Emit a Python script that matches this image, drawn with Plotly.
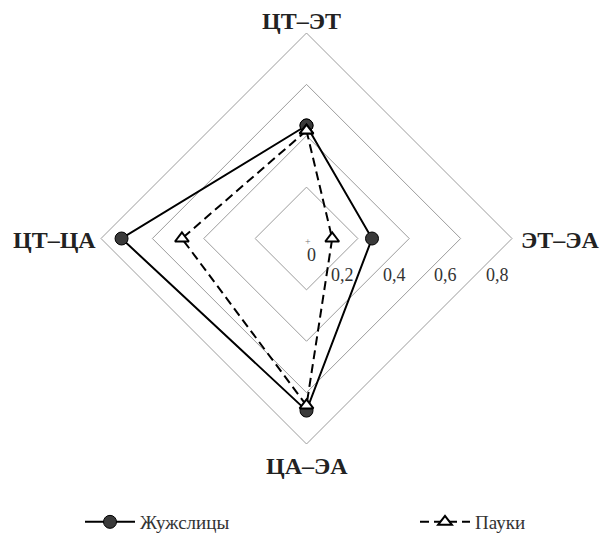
import plotly.graph_objects as go

# axes (clockwise from top)
categories = ['ЦТ–ЭТ', 'ЭТ–ЭА', 'ЦА–ЭА', 'ЦТ–ЦА']

# series values
zhuzhelitsy = [0.44, 0.255, 0.67, 0.72]
pauki = [0.42, 0.10, 0.65, 0.485]

# radial ticks
tick_vals = [0, 0.2, 0.4, 0.6, 0.8]
tick_text = ['0', '0,2', '0,4', '0,6', '0,8']

W, H = 602, 533
serif = 'Liberation Serif, Times New Roman, serif'

# polar domain in pixels
px0, px1 = 101, 512
py0, py1 = 33, 444
cx = (px0 + px1) / 2
cy = (py0 + py1) / 2
rpx = (px1 - px0) / 2
rmax = 0.8


def close(v):
    return v + v[:1]


def paper(x, y):
    return dict(x=x / W, y=1 - y / H, xref='paper', yref='paper', showarrow=False)


fig = go.Figure()

fig.add_trace(go.Scatterpolar(
    r=close(zhuzhelitsy), theta=close(categories),
    mode='lines+markers', name='Жужслицы', legend='legend',
    line=dict(color='black', width=2),
    marker=dict(symbol='circle', size=13, color='#3a3a3a',
                line=dict(color='black', width=1)),
))

fig.add_trace(go.Scatterpolar(
    r=close(pauki), theta=close(categories),
    mode='lines+markers', name='Пауки', legend='legend2',
    line=dict(color='black', width=2, dash='9px,5px'),
    marker=dict(symbol='triangle-up', size=12, color='white',
                line=dict(color='black', width=2)),
))

annotations = []

# radial tick labels, placed under the right-hand edges
for v, t in zip(tick_vals, tick_text):
    if v == 0:
        x, y = cx + 5, cy + 16
    else:
        x, y = cx + v / rmax * rpx - 15, cy + 36
    annotations.append(dict(paper(x, y), text=t, xanchor='center', yanchor='middle',
                            font=dict(family=serif, size=18, color='#333333')))

annotations.append(dict(paper(cx + 1, cy + 3), text='+',
                        font=dict(family=serif, size=10, color='#777777')))

# category labels outside the outer diamond (top, right, bottom, left)
cat_pos = [
    (cx - 5, py0 - 12, 'center'),
    (px1 + 7, cy + 1, 'left'),
    (cx, py1 + 22, 'center'),
    (px0 - 3, cy + 1, 'right'),
]
for c, (x, y, xa) in zip(categories, cat_pos):
    annotations.append(dict(paper(x, y), text='<b>%s</b>' % c, xanchor=xa, yanchor='middle',
                            font=dict(family=serif, size=24, color='#222222')))

legend_style = dict(orientation='h', y=1 - 522 / H, xanchor='left', yanchor='middle',
                    font=dict(family=serif, size=19, color='#333333'),
                    itemwidth=50, bgcolor='rgba(0,0,0,0)')

fig.update_layout(
    width=W, height=H,
    margin=dict(l=0, r=0, t=0, b=0, autoexpand=False),
    paper_bgcolor='white',
    plot_bgcolor='white',
    showlegend=True,
    font=dict(family=serif, color='#333333'),
    polar=dict(
        domain=dict(x=[px0 / W, px1 / W], y=[1 - py1 / H, 1 - py0 / H]),
        bgcolor='white',
        gridshape='linear',
        radialaxis=dict(range=[0, rmax], tickvals=tick_vals, showticklabels=False,
                        ticks='', showline=False, gridcolor='#9c9c9c', gridwidth=1),
        angularaxis=dict(direction='clockwise', rotation=90, showgrid=False,
                         ticks='', showticklabels=False,
                         linecolor='#9c9c9c', linewidth=1),
    ),
    legend=dict(legend_style, x=80 / W),
    legend2=dict(legend_style, x=415 / W),
    annotations=annotations,
)

# the page body has an 8px default margin; drop it so the figure sits at 0,0
fig.write_html('out.html', config={'displayModeBar': False},
               post_script="document.body.style.margin='0';")
